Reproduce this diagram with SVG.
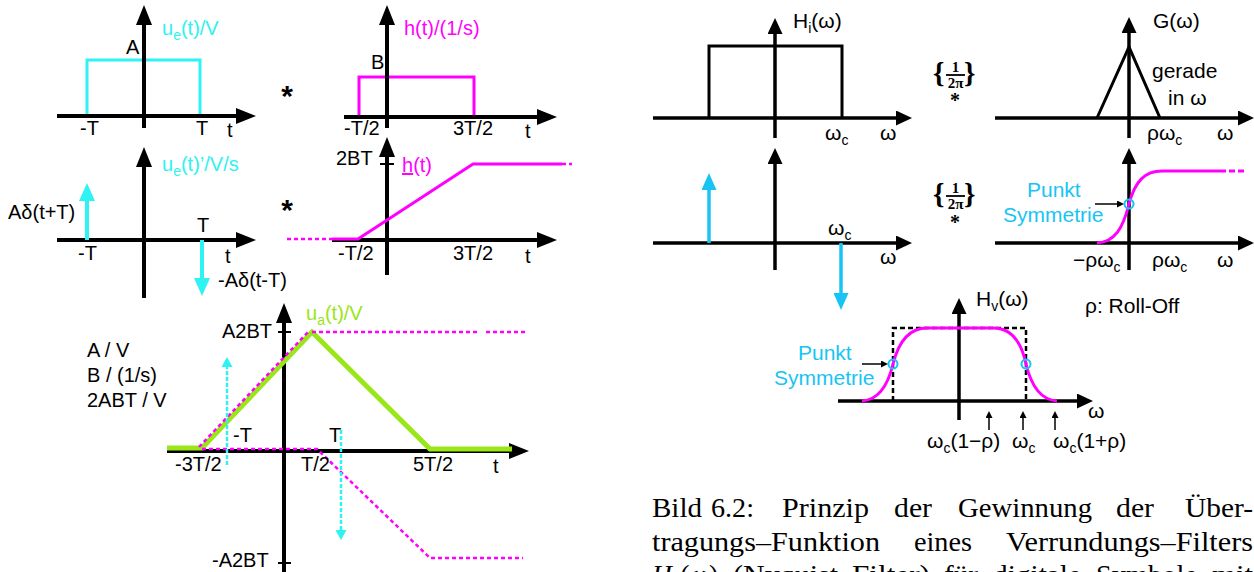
<svg xmlns="http://www.w3.org/2000/svg" width="1254" height="572" viewBox="0 0 1254 572">
<style>
text{font-family:"Liberation Sans",Arial,sans-serif;font-size:20px;fill:#000}
.r{font-size:21px}
.sub{font-size:14px}
.cy{fill:#2ff2f2}
.cb{fill:#18c4f4}
.mg{fill:#ff00ff}
.gr{fill:#99e619}
.br{font-family:"Liberation Serif","Times New Roman",serif;font-size:29px;font-weight:bold}
.fr{font-family:"Liberation Serif","Times New Roman",serif;font-size:15px;font-weight:bold;text-anchor:middle}
.cap{font-family:"Liberation Serif","Times New Roman",serif;font-size:27.5px}
.ax{stroke:#000;stroke-width:4;fill:none}
.ax2{stroke:#000;stroke-width:3.5;fill:none}
.star{font-family:"Liberation Sans",Arial,sans-serif;font-weight:bold;font-size:30px;text-anchor:middle}
.bstar{font-family:"Liberation Serif",serif;font-weight:bold;font-size:20px;text-anchor:middle}
</style>
<defs>
<marker id="ak" viewBox="0 0 20 16" markerWidth="20" markerHeight="16" refX="1" refY="8" orient="auto" markerUnits="userSpaceOnUse"><path d="M0,0 L20,8 L0,16 Z" fill="#000"/></marker>
<marker id="ak2" viewBox="0 0 16 15" markerWidth="16" markerHeight="15" refX="1" refY="7.5" orient="auto" markerUnits="userSpaceOnUse"><path d="M0,0 L16,7.5 L0,15 Z" fill="#000"/></marker>
<marker id="aks" viewBox="0 0 7 7" markerWidth="7" markerHeight="7" refX="1" refY="3.5" orient="auto" markerUnits="userSpaceOnUse"><path d="M0,0 L7,3.5 L0,7 Z" fill="#000"/></marker>
<marker id="ac" viewBox="0 0 18 16" markerWidth="18" markerHeight="16" refX="1" refY="8" orient="auto" markerUnits="userSpaceOnUse"><path d="M0,0 L18,8 L0,16 Z" fill="#2ff2f2"/></marker>
<marker id="acs" viewBox="0 0 10 11" markerWidth="10" markerHeight="11" refX="1" refY="5.5" orient="auto" markerUnits="userSpaceOnUse"><path d="M0,0 L10,5.5 L0,11 Z" fill="#2ff2f2"/></marker>
<marker id="ac2" viewBox="0 0 17 15" markerWidth="17" markerHeight="15" refX="1" refY="7.5" orient="auto" markerUnits="userSpaceOnUse"><path d="M0,0 L17,7.5 L0,15 Z" fill="#18c4f4"/></marker>
</defs>

<!-- Panel 1: u_e(t) -->
<g id="p1">
<path d="M87,116 V60 H200 V116" fill="none" stroke="#2ff2f2" stroke-width="3"/>
<line class="ax" x1="144" y1="128" x2="144" y2="24" marker-end="url(#ak)"/>
<line class="ax" x1="57" y1="116" x2="237" y2="116" marker-end="url(#ak)"/>
<text class="cy" x="162" y="35">u<tspan class="sub" dy="5">e</tspan><tspan dy="-5">(t)/V</tspan></text>
<text x="126" y="54">A</text>
<text x="80" y="135">-T</text>
<text x="196" y="135">T</text>
<text x="227" y="137">t</text>
</g>
<g id="star1"><text class="star" x="287" y="106">*</text></g>

<!-- Panel 2: h(t) -->
<g id="p2">
<path d="M359,117 V77 H474 V117" fill="none" stroke="#ff00ff" stroke-width="3"/>
<line class="ax" x1="387" y1="128" x2="387" y2="24" marker-end="url(#ak)"/>
<line class="ax" x1="344" y1="117" x2="538" y2="117" marker-end="url(#ak)"/>
<text class="mg" x="404" y="35">h(t)/(1/s)</text>
<text x="371" y="69">B</text>
<text x="344" y="135">-T/2</text>
<text x="453" y="135">3T/2</text>
<text x="525" y="138">t</text>
</g>

<!-- Panel 3: u_e'(t) -->
<g id="p3">
<line class="ax" x1="144" y1="298" x2="144" y2="166" marker-end="url(#ak)"/>
<line class="ax" x1="57" y1="240" x2="237" y2="240" marker-end="url(#ak)"/>
<line x1="87" y1="240" x2="87" y2="200" stroke="#2ff2f2" stroke-width="4" marker-end="url(#ac)"/>
<line x1="202" y1="240" x2="202" y2="279" stroke="#2ff2f2" stroke-width="4" marker-end="url(#ac)"/>
<text class="cy" x="162" y="171">u<tspan class="sub" dy="5">e</tspan><tspan dy="-5">(t)’/V/s</tspan></text>
<text x="8" y="219">Aδ(t+T)</text>
<text x="78" y="260">-T</text>
<text x="197" y="232">T</text>
<text x="225" y="263">t</text>
<text x="218" y="287">-Aδ(t-T)</text>
</g>
<g id="star2"><text class="star" x="287" y="220">*</text></g>

<!-- Panel 4: integrated h(t) -->
<g id="p4">
<line class="ax" x1="387" y1="275" x2="387" y2="156" marker-end="url(#ak)"/>
<line class="ax" x1="332" y1="240" x2="538" y2="240" marker-end="url(#ak)"/>
<line x1="380" y1="164" x2="394" y2="164" stroke="#000" stroke-width="2"/>
<line x1="287" y1="239" x2="332" y2="239" stroke="#ff00ff" stroke-width="2.5" stroke-dasharray="4 3"/>
<polyline points="332,239 358,239 473,164 562,164" fill="none" stroke="#ff00ff" stroke-width="3"/>
<line x1="562" y1="164" x2="572" y2="164" stroke="#ff00ff" stroke-width="2.5" stroke-dasharray="4 3"/>
<text x="336" y="165">2BT</text>
<text class="mg" x="402" y="172"><tspan text-decoration="underline">h</tspan>(t)</text>
<text x="338" y="260">-T/2</text>
<text x="453" y="260">3T/2</text>
<text x="525" y="263">t</text>
</g>

<!-- Panel 5: u_a(t) -->
<g id="p5">
<line class="ax" x1="284" y1="572" x2="284" y2="322" marker-end="url(#ak)"/>
<line class="ax" x1="167" y1="451" x2="510" y2="451" marker-end="url(#ak)"/>
<line x1="278" y1="332" x2="291" y2="332" stroke="#000" stroke-width="2"/>
<line x1="278" y1="563" x2="291" y2="563" stroke="#000" stroke-width="2"/>
<polyline points="167,448 202,448 312,332 430,449 512,449" fill="none" stroke="#99e619" stroke-width="5" stroke-linejoin="miter"/>
<g fill="none" stroke="#ff00ff" stroke-width="2.5" stroke-dasharray="4 3">
<line x1="199" y1="447" x2="309" y2="331"/>
<line x1="312" y1="332" x2="480" y2="332"/>
<line x1="486" y1="332" x2="528" y2="332"/>
<polyline points="202,449 317,449 430,558 523,558"/>
</g>
<line x1="227" y1="465" x2="227" y2="366" stroke="#2ff2f2" stroke-width="2.5" stroke-dasharray="4 2" marker-end="url(#acs)"/>
<line x1="341" y1="430" x2="341" y2="531" stroke="#2ff2f2" stroke-width="2.5" stroke-dasharray="4 2" marker-end="url(#acs)"/>
<text class="gr" x="306" y="320">u<tspan class="sub" dy="5">a</tspan><tspan dy="-5">(t)/V</tspan></text>
<text x="222" y="338">A2BT</text>
<text x="87" y="357">A / V</text>
<text x="87" y="382">B / (1/s)</text>
<text x="87" y="407">2ABT / V</text>
<text x="233" y="442">-T</text>
<text x="329" y="442">T</text>
<text x="175" y="471">-3T/2</text>
<text x="301" y="471">T/2</text>
<text x="413" y="471">5T/2</text>
<text x="493" y="473">t</text>
<text x="212" y="567">-A2BT</text>
</g>

<!-- Panel 7: H_i(omega) -->
<g id="p7">
<path d="M709,118 V46 H842 V118" fill="none" stroke="#000" stroke-width="3"/>
<line class="ax2" x1="775" y1="138" x2="775" y2="33" marker-end="url(#ak2)"/>
<line class="ax2" x1="653" y1="118" x2="897" y2="118" marker-end="url(#ak2)"/>
<text class="r" x="793" y="28">H<tspan class="sub" dy="5">i</tspan><tspan dy="-5">(ω)</tspan></text>
<text class="r" x="825" y="140">ω<tspan class="sub" dy="5">c</tspan></text>
<text class="r" x="880" y="140">ω</text>
</g>

<!-- convolution operator 1 -->
<g id="op1">
<text class="br" x="933" y="83">{</text>
<text class="fr" x="955.5" y="72">1</text>
<line x1="946" y1="75" x2="965" y2="75" stroke="#000" stroke-width="1.8"/>
<text class="fr" x="955.5" y="88">2π</text>
<text class="br" x="964" y="83">}</text>
<text class="bstar" x="955" y="107">*</text>
</g>

<!-- Panel 8: G(omega) -->
<g id="p8">
<polyline points="1097,118 1129,47 1160,118" fill="none" stroke="#000" stroke-width="3"/>
<line class="ax2" x1="1129" y1="138" x2="1129" y2="32" marker-end="url(#ak2)"/>
<line class="ax2" x1="995" y1="118" x2="1239" y2="118" marker-end="url(#ak2)"/>
<text class="r" x="1153" y="28">G(ω)</text>
<text class="r" x="1152" y="78">gerade</text>
<text class="r" x="1168" y="105">in ω</text>
<text class="r" x="1147" y="140">ρω<tspan class="sub" dy="5">c</tspan></text>
<text class="r" x="1217" y="140">ω</text>
</g>

<!-- Panel 9: derivative of H_i -->
<g id="p9">
<line class="ax2" x1="775" y1="270" x2="775" y2="163" marker-end="url(#ak2)"/>
<line class="ax2" x1="653" y1="243" x2="897" y2="243" marker-end="url(#ak2)"/>
<line x1="709" y1="243" x2="709" y2="189" stroke="#18c4f4" stroke-width="3.5" marker-end="url(#ac2)"/>
<line x1="841" y1="243" x2="841" y2="294" stroke="#18c4f4" stroke-width="3.5" marker-end="url(#ac2)"/>
<text class="r" x="828" y="235">ω<tspan class="sub" dy="5">c</tspan></text>
<text class="r" x="880" y="264">ω</text>
</g>

<!-- convolution operator 2 -->
<g id="op2">
<text class="br" x="933" y="204">{</text>
<text class="fr" x="955.5" y="193">1</text>
<line x1="946" y1="196" x2="965" y2="196" stroke="#000" stroke-width="1.8"/>
<text class="fr" x="955.5" y="209">2π</text>
<text class="br" x="964" y="204">}</text>
<text class="bstar" x="955" y="229">*</text>
</g>

<!-- Panel 10: integrated G -->
<g id="p10">
<line class="ax2" x1="1129" y1="270" x2="1129" y2="163" marker-end="url(#ak2)"/>
<line class="ax2" x1="995" y1="243" x2="1239" y2="243" marker-end="url(#ak2)"/>
<path d="M1097,243 C1115,242 1123,228 1129,204 C1135,181 1145,171 1162,171 H1220" fill="none" stroke="#ff00ff" stroke-width="3"/>
<line x1="1220" y1="171" x2="1244" y2="171" stroke="#ff00ff" stroke-width="3" stroke-dasharray="6 3"/>
<circle cx="1129" cy="204" r="4.5" fill="none" stroke="#18c4f4" stroke-width="2"/>
<line x1="1095" y1="204" x2="1118" y2="204" stroke="#000" stroke-width="1.5" marker-end="url(#aks)"/>
<text class="r cb" x="1027" y="197">Punkt</text>
<text class="r cb" x="1003" y="222">Symmetrie</text>
<text class="r" x="1073" y="267">−ρω<tspan class="sub" dy="5">c</tspan></text>
<text class="r" x="1152" y="267">ρω<tspan class="sub" dy="5">c</tspan></text>
<text class="r" x="1217" y="267">ω</text>
</g>

<!-- Panel 11: H_v(omega) -->
<g id="p11">
<path d="M893,401 V328 H1026 V401" fill="none" stroke="#000" stroke-width="2.5" stroke-dasharray="5 3"/>
<line class="ax2" x1="959" y1="420" x2="959" y2="313" marker-end="url(#ak2)"/>
<line class="ax2" x1="838" y1="401" x2="1078" y2="401" marker-end="url(#ak2)"/>
<path d="M862,401 C878,400 888,385 893,364 C899,340 910,328 927,328 H993 C1010,328 1021,340 1026,364 C1031,385 1041,400 1057,401" fill="none" stroke="#ff00ff" stroke-width="3"/>
<circle cx="893" cy="364" r="4.5" fill="none" stroke="#18c4f4" stroke-width="2"/>
<circle cx="1026" cy="364" r="4.5" fill="none" stroke="#18c4f4" stroke-width="2"/>
<line x1="862" y1="364" x2="882" y2="364" stroke="#000" stroke-width="1.5" marker-end="url(#aks)"/>
<line x1="989" y1="430" x2="989" y2="417" stroke="#000" stroke-width="1.5" marker-end="url(#aks)"/>
<line x1="1023" y1="430" x2="1023" y2="417" stroke="#000" stroke-width="1.5" marker-end="url(#aks)"/>
<line x1="1055" y1="430" x2="1055" y2="417" stroke="#000" stroke-width="1.5" marker-end="url(#aks)"/>
<text class="r cb" x="798" y="360">Punkt</text>
<text class="r cb" x="774" y="385">Symmetrie</text>
<text class="r" x="976" y="306">H<tspan class="sub" dy="5">v</tspan><tspan dy="-5">(ω)</tspan></text>
<text class="r" x="1088" y="418">ω</text>
<text class="r" x="927" y="448">ω<tspan class="sub" dy="5">c</tspan><tspan dy="-5">(1−ρ)</tspan></text>
<text class="r" x="1012" y="448">ω<tspan class="sub" dy="5">c</tspan></text>
<text class="r" x="1053" y="448">ω<tspan class="sub" dy="5">c</tspan><tspan dy="-5">(1+ρ)</tspan></text>
</g>
<g id="rolloff"><text class="r" x="1085" y="313">ρ: Roll-Off</text></g>

<!-- Caption -->
<g id="caption">
<text class="cap" y="517">
<tspan x="652" textLength="50" lengthAdjust="spacingAndGlyphs">Bild</tspan>
<tspan x="711" textLength="43" lengthAdjust="spacingAndGlyphs">6.2:</tspan>
<tspan x="782" textLength="87" lengthAdjust="spacingAndGlyphs">Prinzip</tspan>
<tspan x="894" textLength="38" lengthAdjust="spacingAndGlyphs">der</tspan>
<tspan x="958" textLength="134" lengthAdjust="spacingAndGlyphs">Gewinnung</tspan>
<tspan x="1116" textLength="38" lengthAdjust="spacingAndGlyphs">der</tspan>
<tspan x="1185" textLength="68" lengthAdjust="spacingAndGlyphs">Über-</tspan>
</text>
<text class="cap" y="551">
<tspan x="652" textLength="228" lengthAdjust="spacingAndGlyphs">tragungs–Funktion</tspan>
<tspan x="914" textLength="58" lengthAdjust="spacingAndGlyphs">eines</tspan>
<tspan x="1006" textLength="247" lengthAdjust="spacingAndGlyphs">Verrundungs–Filters</tspan>
</text>
<text class="cap" y="584"><tspan x="652" font-style="italic">H</tspan><tspan font-style="italic" font-size="19" dy="4">v</tspan><tspan dy="-4">(</tspan><tspan font-style="italic">ω</tspan><tspan>)</tspan>
<tspan x="733" textLength="105" lengthAdjust="spacingAndGlyphs">(Nyquist</tspan>
<tspan x="852" textLength="78" lengthAdjust="spacingAndGlyphs">Filter)</tspan>
<tspan x="944" textLength="34" lengthAdjust="spacingAndGlyphs">für</tspan>
<tspan x="993" textLength="88" lengthAdjust="spacingAndGlyphs">digitale</tspan>
<tspan x="1096" textLength="101" lengthAdjust="spacingAndGlyphs">Symbole</tspan>
<tspan x="1212" textLength="41" lengthAdjust="spacingAndGlyphs">mit</tspan>
</text>
</g>
</svg>
